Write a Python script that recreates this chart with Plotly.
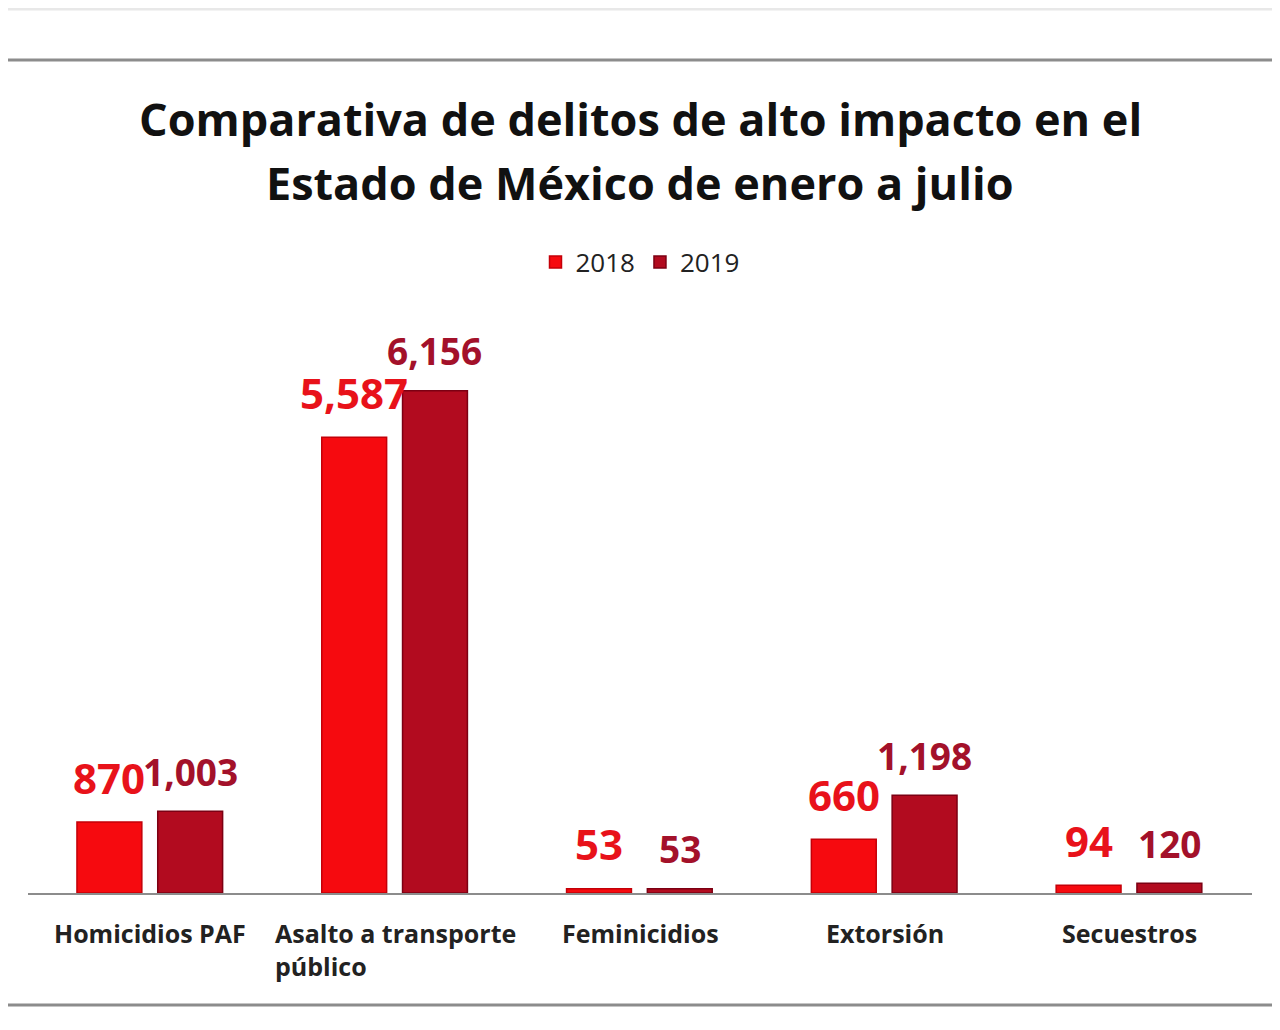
import plotly.graph_objects as go

# ---------------- data ----------------
categories = ["Homicidios PAF", "Asalto a transporte<br>público", "Feminicidios", "Extorsión", "Secuestros"]
series_names = ["2018", "2019"]
values_2018 = [870, 5587, 53, 660, 94]
values_2019 = [1003, 6156, 53, 1198, 120]
title_lines = ["Comparativa de delitos de alto impacto en el", "Estado de México de enero a julio"]

# ---------------- layout constants ----------------
PAGE_OFF = 8                      # default body margin of the html page
W, H = 1280 - PAGE_OFF, 1030 - PAGE_OFF
M_L, M_R, M_T, M_B = 28 - PAGE_OFF, 28, 300 - PAGE_OFF, 137
FONT = "Open Sans"
C18_BAR, C18_LINE, C18_TXT = "#f60a0f", "#c40008", "#e8121a"
C19_BAR, C19_LINE, C19_TXT = "#b20b1f", "#7c0013", "#a3112a"
BAR_W = 0.265
OFF18, OFF19 = -0.30, 0.03


def py(pix):
    """screen pixel y (from top of window) -> paper y"""
    return (H - M_B - (pix - PAGE_OFF)) / (H - M_T - M_B)


idx = list(range(len(categories)))

fig = go.Figure()
fig.add_bar(x=idx, y=values_2018, name=series_names[0], offset=OFF18, width=BAR_W,
            marker=dict(color=C18_BAR, line=dict(color=C18_LINE, width=1.5)))
fig.add_bar(x=idx, y=values_2019, name=series_names[1], offset=OFF19, width=BAR_W,
            marker=dict(color=C19_BAR, line=dict(color=C19_LINE, width=1.5)))

annotations = []
# value labels
for i, (a, b) in enumerate(zip(values_2018, values_2019)):
    annotations.append(dict(x=i + OFF18 + BAR_W / 2, y=a, xref="x", yref="y", text=f"{a:,}",
                            showarrow=False, yanchor="middle", yshift=45,
                            font=dict(family=FONT, size=42, weight="bold", color=C18_TXT)))
    annotations.append(dict(x=i + OFF19 + BAR_W / 2, y=b, xref="x", yref="y", text=f"{b:,}",
                            showarrow=False, yanchor="middle", yshift=40,
                            font=dict(family=FONT, size=37, weight="bold", color=C19_TXT)))
# category labels
for i, c in enumerate(categories):
    annotations.append(dict(x=i, y=0, xref="x", yref="y", text=c, showarrow=False,
                            yanchor="top", yshift=-21, align="left",
                            font=dict(family=FONT, size=25, weight="bold", color="#222222")))
# title
for t, ypix in zip(title_lines, [118, 183]):
    annotations.append(dict(x=0.5, y=py(ypix), xref="paper", yref="paper", text=t,
                            showarrow=False, yanchor="middle", xanchor="center",
                            font=dict(family=FONT, size=45, weight="bold", color="#111111")))

shapes = [
    dict(type="line", xref="paper", yref="paper", x0=-0.1, x1=1.1, y0=py(60), y1=py(60),
         line=dict(color="#8c8c8c", width=3)),
    dict(type="line", xref="paper", yref="paper", x0=-0.1, x1=1.1, y0=py(1005), y1=py(1005),
         line=dict(color="#8c8c8c", width=3)),
    dict(type="line", xref="paper", yref="paper", x0=-0.1, x1=1.1, y0=py(9), y1=py(9),
         line=dict(color="#e8e8e8", width=3)),
]

fig.update_layout(
    width=W, height=H,
    margin=dict(l=M_L, r=M_R, t=M_T, b=M_B, autoexpand=False),
    paper_bgcolor="white", plot_bgcolor="white",
    barmode="overlay",
    showlegend=True,
    legend=dict(orientation="h", x=0.5, xanchor="center", y=py(262), yanchor="middle",
                font=dict(family=FONT, size=26, color="#222222"), itemwidth=30,
                traceorder="normal"),
    annotations=annotations,
    shapes=shapes,
    xaxis=dict(range=[-0.5, len(categories) - 0.5], showticklabels=False, showgrid=False,
               zeroline=False, showline=True, linecolor="#8c8c8c", linewidth=2, ticks=""),
    yaxis=dict(range=[0, 7270], visible=False, showgrid=False, zeroline=False),
)

fig.write_html("out.html")
